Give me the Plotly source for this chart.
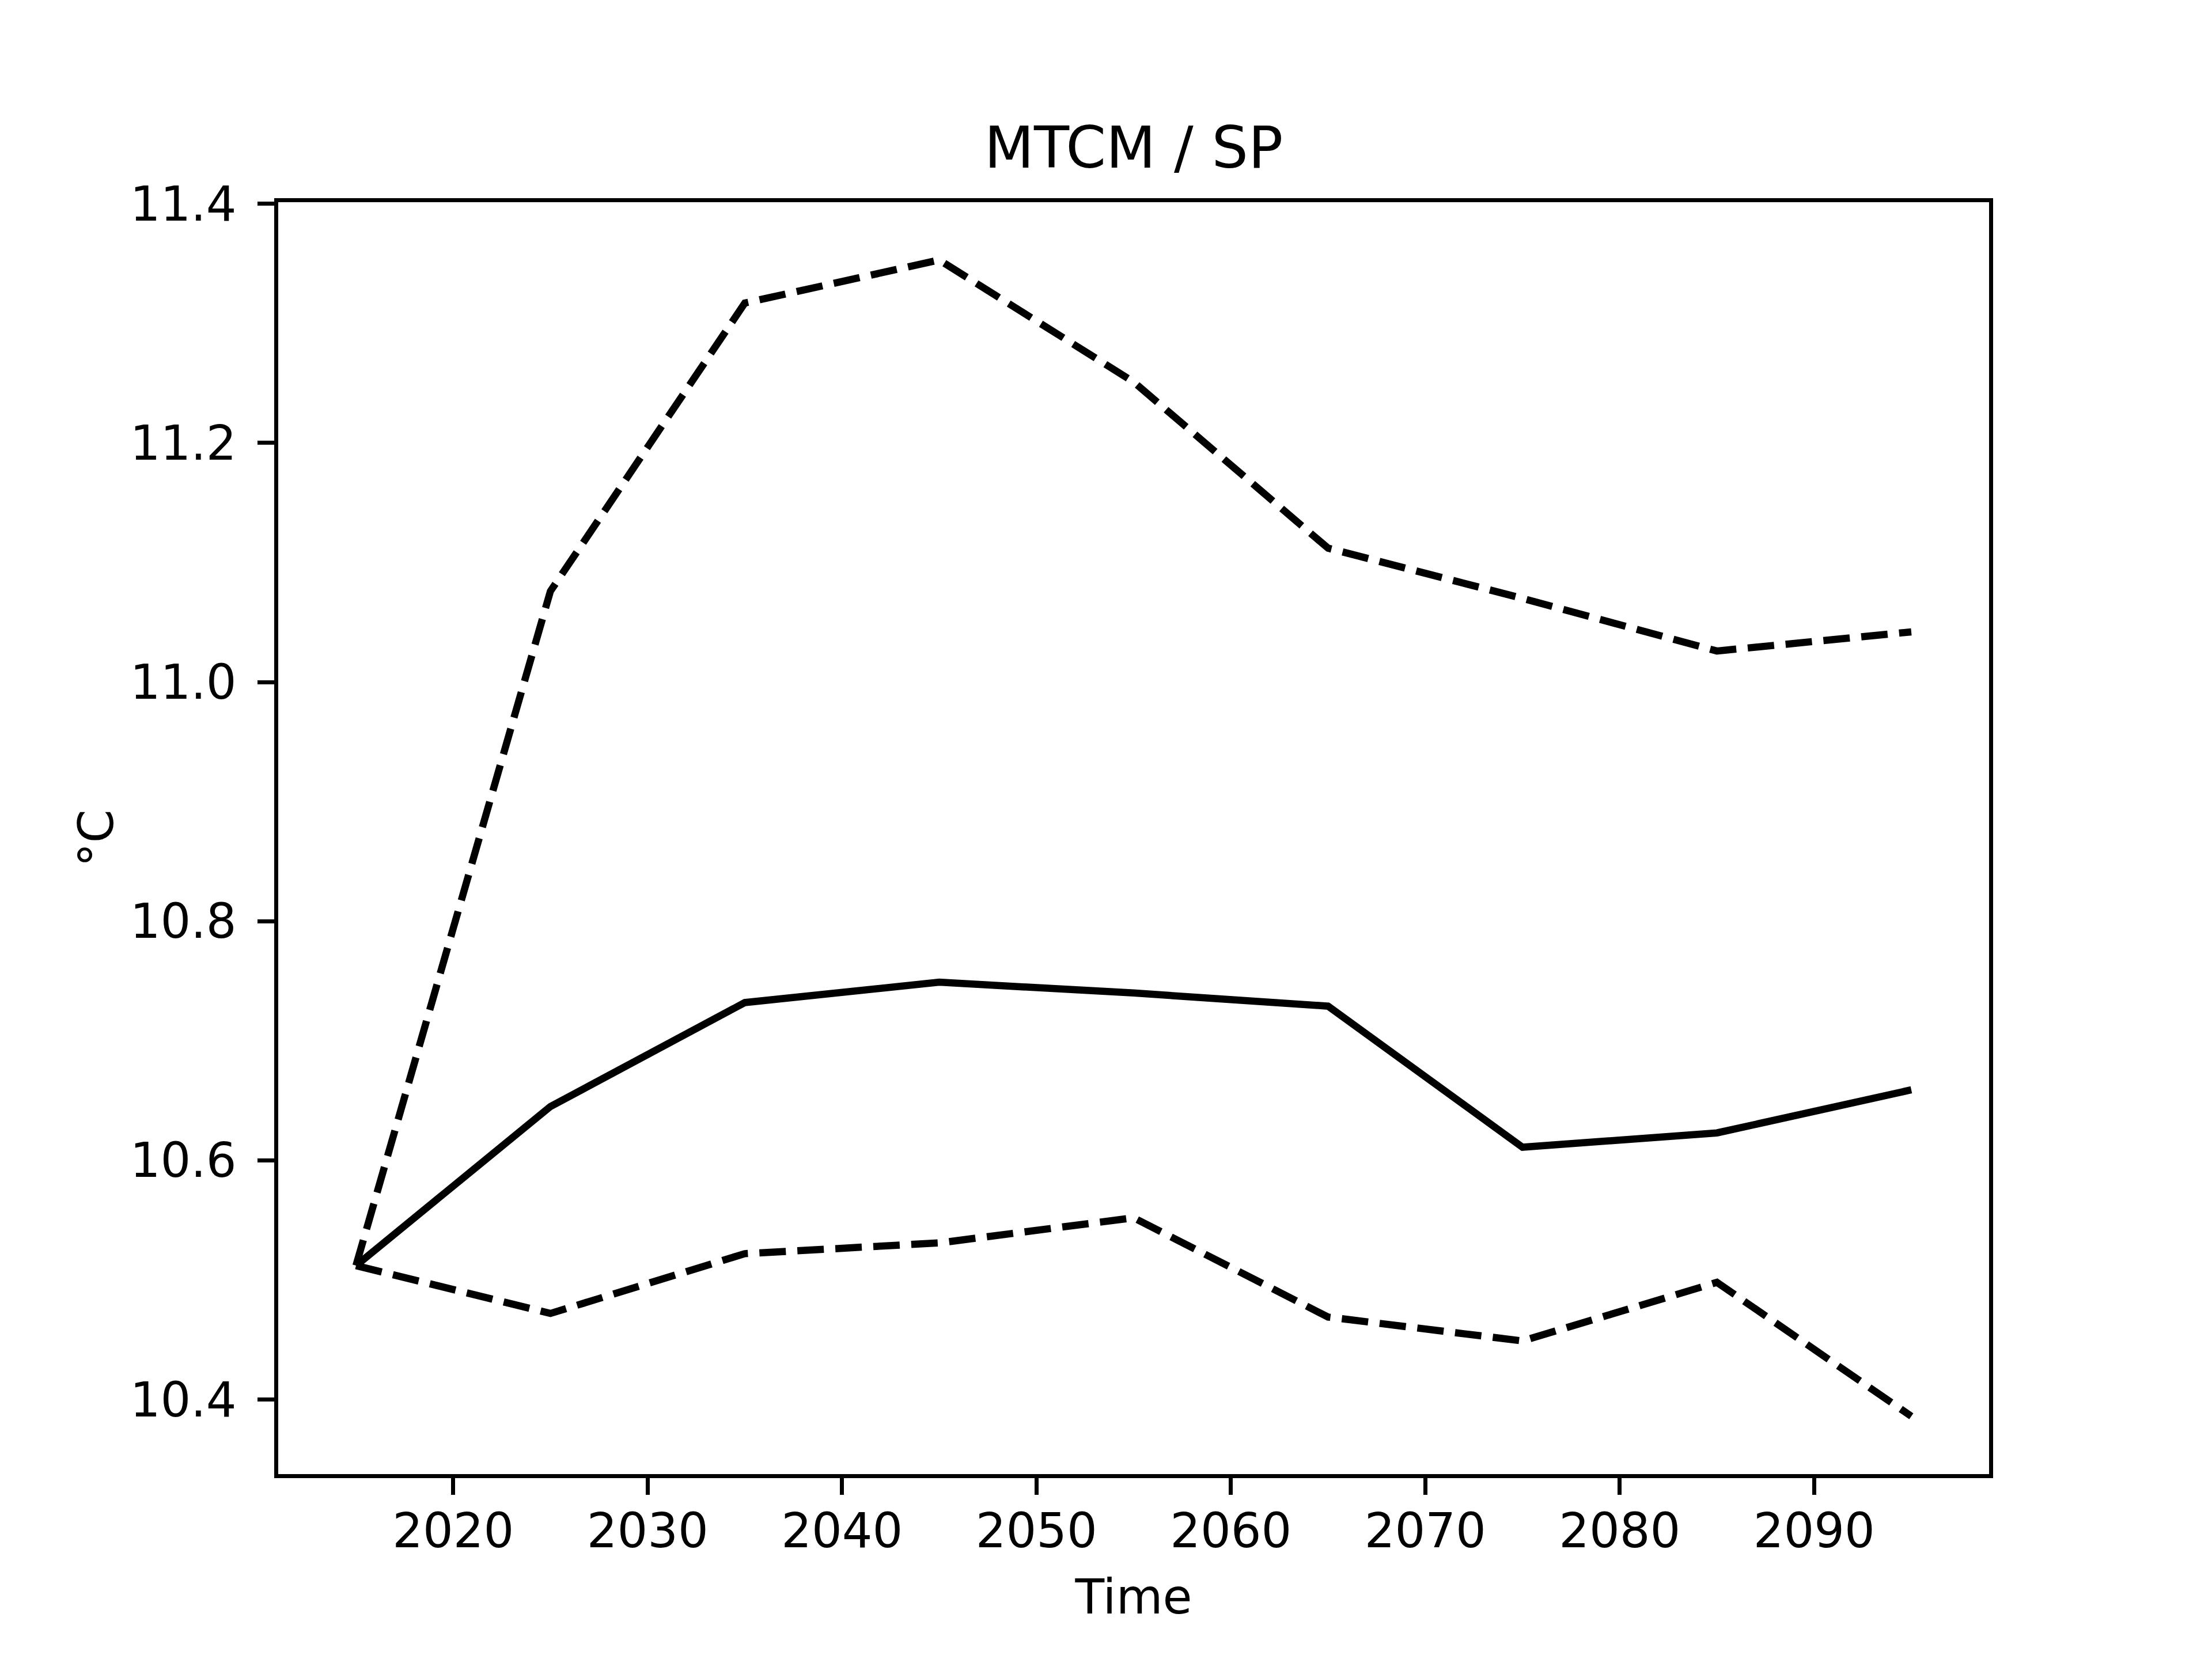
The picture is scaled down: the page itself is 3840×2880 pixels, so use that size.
import plotly.graph_objects as go

years = [2015, 2025, 2035, 2045, 2055, 2065, 2075, 2085, 2095]
mean_vals = [10.512, 10.645, 10.732, 10.749, 10.740, 10.729, 10.611, 10.623, 10.659]
upper_vals = [10.512, 11.076, 11.317, 11.353, 11.251, 11.112, 11.070, 11.026, 11.042]
lower_vals = [10.512, 10.472, 10.522, 10.531, 10.552, 10.469, 10.449, 10.498, 10.386]
x_ticks = [2020, 2030, 2040, 2050, 2060, 2070, 2080, 2090]
y_ticks = [10.4, 10.6, 10.8, 11.0, 11.2, 11.4]
title_text = "MTCM / SP"
x_label = "Time"
y_label = "°C"

W, H = 3840, 2880
FONT = "DejaVu Sans"
LW = 12.5
DASH = "46px,20px"
SPINE = 6.7
h = SPINE / 2
OFF = 8  # page body margin compensation
# axes box (spine centres) in pixels
L, R, T, B = 480 - OFF, 3456 - OFF, 348 - OFF, 2562 - OFF

fig = go.Figure()
fig.add_trace(go.Scatter(x=years, y=upper_vals, mode="lines",
                         line=dict(color="black", width=LW, dash=DASH), showlegend=False))
fig.add_trace(go.Scatter(x=years, y=lower_vals, mode="lines",
                         line=dict(color="black", width=LW, dash=DASH), showlegend=False))
fig.add_trace(go.Scatter(x=years, y=mean_vals, mode="lines",
                         line=dict(color="black", width=LW), showlegend=False))

all_vals = mean_vals + upper_vals + lower_vals
ymin, ymax = min(all_vals), max(all_vals)
ypad = (ymax - ymin) * 0.05
xmin, xmax = min(years), max(years)
xpad = (xmax - xmin) * 0.05
x0, x1 = xmin - xpad, xmax + xpad
y0, y1 = ymin - ypad, ymax + ypad

axis_common = dict(
    showline=True, linecolor="black", linewidth=SPINE, mirror=True,
    ticks="outside", ticklen=29, tickwidth=SPINE, tickcolor="black",
    showgrid=False, zeroline=False, automargin=False,
    tickfont=dict(family=FONT, size=83, color="black"),
)

fig.update_layout(
    width=W, height=H,
    paper_bgcolor="white", plot_bgcolor="white",
    margin=dict(l=L + h, r=W - R + h, t=T + h, b=H - B + h, pad=0),
    title=dict(text=title_text, x=(L + R) / 2 / W, xanchor="center",
               y=1 - 248 / H, yanchor="middle", yref="container",
               font=dict(family=FONT, size=100, color="black")),
    xaxis=dict(range=[x0, x1], tickvals=x_ticks,
               ticktext=[str(v) for v in x_ticks],
               title=dict(text=x_label, font=dict(family=FONT, size=83, color="black"), standoff=40),
               ticklabelstandoff=-8,
               **axis_common),
    yaxis=dict(range=[y0, y1], tickvals=y_ticks,
               ticktext=[f"{v:.1f}" for v in y_ticks],
               title=dict(text=y_label, font=dict(family=FONT, size=83, color="black"), standoff=4),
               ticklabelstandoff=20,
               **axis_common),
)

fig.write_html("out.html")
